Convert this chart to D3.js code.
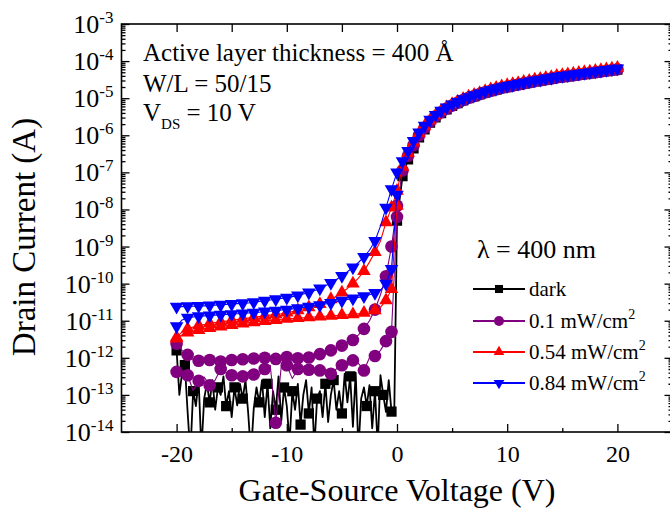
<!DOCTYPE html>
<html>
<head>
<meta charset="utf-8">
<script src="https://cdn.jsdelivr.net/npm/d3@7"></script>
<style>
body { margin: 0; background: #fff; }
svg text { font-family: "Liberation Serif", "Times New Roman", serif; fill: #000; }
</style>
</head>
<body>
<div id="chart"></div>
<script>
// ---- data (log10 of drain current, A) ----
// off-state sweeps, Vgs = -20 .. 0 step 0.5
var blueUp = [-10.62,-10.62,-10.61,-10.61,-10.60,-10.60,-10.59,-10.58,-10.57,-10.56,
  -10.55,-10.54,-10.53,-10.52,-10.50,-10.48,-10.46,-10.44,-10.42,-10.40,
  -10.38,-10.35,-10.32,-10.28,-10.24,-10.19,-10.13,-10.06,-9.98,-9.89,
  -9.79,-9.68,-9.56,-9.43,-9.28,-9.10,-8.85,-8.45,-7.95,-7.45,-7.00];
var blueLo = [-11.15,-10.98,-10.92,-10.90,-10.88,-10.87,-10.86,-10.85,-10.84,-10.83,
  -10.82,-10.81,-10.80,-10.79,-10.78,-10.77,-10.75,-10.74,-10.73,-10.71,
  -10.70,-10.68,-10.66,-10.64,-10.62,-10.60,-10.58,-10.55,-10.52,-10.49,
  -10.46,-10.43,-10.40,-10.37,-10.34,-10.30,-10.25,-10.18,-10.00,-9.60,-7.60];
var redUp = [-11.45,-11.30,-11.22,-11.17,-11.13,-11.10,-11.07,-11.05,-11.03,-11.01,
  -10.99,-10.97,-10.95,-10.93,-10.91,-10.89,-10.87,-10.85,-10.83,-10.81,
  -10.78,-10.75,-10.72,-10.68,-10.64,-10.60,-10.55,-10.49,-10.42,-10.34,
  -10.24,-10.13,-10.00,-9.85,-9.66,-9.42,-9.15,-8.85,-8.35,-7.95,-7.50];
var redLo = [-11.48,-11.38,-11.32,-11.28,-11.25,-11.22,-11.20,-11.18,-11.16,-11.14,
  -11.12,-11.10,-11.08,-11.06,-11.04,-11.02,-11.01,-10.99,-10.98,-10.96,
  -10.95,-10.94,-10.93,-10.92,-10.91,-10.90,-10.89,-10.88,-10.87,-10.86,
  -10.85,-10.84,-10.83,-10.81,-10.79,-10.76,-10.72,-10.64,-10.45,-10.15,-7.90];
var purpleUp = [-11.62,-11.80,-11.92,-12.05,-12.08,-12.02,-12.06,-12.05,-12.10,-12.03,
  -12.06,-12.10,-12.04,-12.08,-12.02,-12.06,-12.00,-11.96,-12.03,-12.06,
  -11.98,-12.04,-12.01,-11.97,-11.99,-11.94,-11.90,-11.85,-11.80,-11.74,
  -11.67,-11.60,-11.52,-11.38,-11.22,-11.00,-10.70,-10.30,-9.80,-9.00,-7.90];
var purpleLo = [-12.38,-12.45,-12.47,-12.88,-12.62,-12.52,-12.74,-12.60,-12.30,-12.40,
  -12.47,-12.42,-12.50,-12.38,-12.45,-12.47,-12.30,-12.20,-13.75,-12.22,
  -12.20,-12.56,-12.30,-12.25,-12.32,-12.28,-12.34,-12.40,-12.43,-12.30,
  -12.20,-12.22,-12.07,-12.15,-12.34,-12.00,-11.95,-11.80,-11.55,-11.30,-8.20];
// dark off-state, Vgs = -20 .. -0.25 step 0.25 (noisy)
var darkOff = [-11.8,-13.0,-12.4,-12.2,-13.46,-14.6,-12.9,-13.3,-12.6,-14.5,
  -13.1,-12.7,-13.2,-12.6,-13.4,-12.8,-13.0,-12.5,-13.3,-12.9,
  -13.6,-12.8,-13.28,-12.7,-13.1,-12.6,-13.5,-14.6,-13.37,-12.8,
  -13.2,-12.6,-13.6,-12.7,-13.9,-12.9,-13.4,-12.5,-13.7,-12.8,
  -13.3,-14.3,-12.9,-13.4,-12.7,-13.8,-13.0,-12.6,-13.5,-12.8,
  -14.4,-13.1,-12.9,-13.6,-12.7,-13.73,-13.0,-12.6,-13.4,-12.9,
  -13.5,-12.43,-13.2,-12.5,-13.86,-12.4,-14.5,-13.1,-12.8,-13.3,
  -12.74,-13.9,-12.9,-14.4,-12.47,-13.0,-13.46,-12.6,-13.45,-13.5];
// on-state, Vgs = 0.5 .. 20 step 0.5
var blueOn = [-6.70,-6.42,-6.15,-5.92,-5.74,-5.58,-5.45,-5.34,-5.25,-5.17,
  -5.10,-5.03,-4.97,-4.92,-4.87,-4.82,-4.78,-4.74,-4.70,-4.67,
  -4.64,-4.61,-4.58,-4.55,-4.52,-4.50,-4.47,-4.45,-4.42,-4.40,
  -4.38,-4.36,-4.34,-4.32,-4.30,-4.28,-4.26,-4.24,-4.22,-4.20];
var redOn = [-6.85,-6.48,-6.20,-5.95,-5.76,-5.60,-5.46,-5.35,-5.25,-5.16,
  -5.09,-5.02,-4.96,-4.91,-4.86,-4.81,-4.76,-4.72,-4.68,-4.65,
  -4.62,-4.59,-4.56,-4.53,-4.50,-4.48,-4.45,-4.43,-4.40,-4.38,
  -4.36,-4.34,-4.32,-4.30,-4.28,-4.26,-4.24,-4.22,-4.20,-4.18];
var purpleOn = [-6.95,-6.55,-6.27,-6.00,-5.80,-5.63,-5.49,-5.38,-5.28,-5.20,
  -5.12,-5.05,-4.99,-4.94,-4.89,-4.84,-4.80,-4.76,-4.72,-4.69,
  -4.66,-4.63,-4.60,-4.57,-4.54,-4.52,-4.49,-4.47,-4.44,-4.42,
  -4.40,-4.38,-4.36,-4.34,-4.32,-4.30,-4.28,-4.26,-4.24,-4.22];
// dark on-state, Vgs = 0 .. 20 step 0.5
var darkOn = [-8.30,-7.10,-6.65,-6.35,-6.06,-5.84,-5.66,-5.52,-5.40,-5.30,-5.21,
  -5.13,-5.06,-5.00,-4.95,-4.90,-4.85,-4.81,-4.77,-4.73,-4.70,
  -4.67,-4.64,-4.61,-4.58,-4.55,-4.53,-4.50,-4.48,-4.45,-4.43,
  -4.41,-4.39,-4.37,-4.35,-4.33,-4.31,-4.29,-4.27,-4.25,-4.23];

var vOff = d3.range(-20, 0.001, 0.5);
var vOn = d3.range(0.5, 20.001, 0.5);
var vDarkOff = d3.range(-20, -0.01, 0.25);
var vDarkOn = d3.range(0, 20.001, 0.5);

var xTicks = [-20, -10, 0, 10, 20];
var xMinor = [-15, -5, 5, 15];
var yExp = d3.range(-14, -2);  // 10^-14 .. 10^-3

var legendNames = ["dark", "0.1 mW/cm", "0.54 mW/cm", "0.84 mW/cm"];

function zip(vs, ls) { return vs.map(function(v, i) { return [v, ls[i]]; }); }

// markers: 1 V apart in the off region, every point near and above threshold
function offMarks(d) { return d[0] >= -0.5 || d[0] % 1 === 0; }
function darkMarks(d, i) { return d[0] >= 0 || i % 3 === 0; }

var series = [
  { name: legendNames[0], color: "#000000", sym: d3.symbolSquare, size: 105, rot: 0,
    sweeps: [zip(vDarkOff, darkOff).concat(zip(vDarkOn, darkOn))], marks: darkMarks, lw: 1.8 },
  { name: legendNames[1], color: "#800080", sym: d3.symbolCircle, size: 125, rot: 0,
    sweeps: [zip(vOff, purpleUp).concat(zip(vOn, purpleOn)), zip(vOff, purpleLo)], marks: offMarks, lw: 1.1 },
  { name: legendNames[2], color: "#ff0000", sym: d3.symbolTriangle, size: 80, rot: 0,
    sweeps: [zip(vOff, redUp).concat(zip(vOn, redOn)), zip(vOff, redLo)], marks: offMarks, lw: 1.1 },
  { name: legendNames[3], color: "#0000ff", sym: d3.symbolTriangle, size: 80, rot: 180,
    sweeps: [zip(vOff, blueUp).concat(zip(vOn, blueOn)), zip(vOff, blueLo)], marks: offMarks, lw: 1.1 }
];

// ---- layout ----
var width = 670, height = 512;
var box = { left: 121.5, right: 672.5, top: 24, bottom: 432 };

var svg = d3.select("#chart").append("svg")
  .attr("width", width)
  .attr("height", height);

var x = d3.scaleLinear().domain([-25, 25]).range([box.left, box.right]);
var y = d3.scaleLog().domain([1e-14, 1e-3]).range([box.bottom, box.top]);

svg.append("clipPath").attr("id", "plotclip")
  .append("rect")
  .attr("x", box.left).attr("y", box.top)
  .attr("width", box.right - box.left).attr("height", box.bottom - box.top);

var line = d3.line()
  .x(function(d) { return x(d[0]); })
  .y(function(d) { return y(Math.pow(10, d[1])); });

var plot = svg.append("g").attr("clip-path", "url(#plotclip)");

series.forEach(function(s) {
  var g = plot.append("g");
  s.sweeps.forEach(function(sw) {
    g.append("path")
      .datum(sw)
      .attr("fill", "none")
      .attr("stroke", s.color)
      .attr("stroke-width", s.lw)
      .attr("stroke-linejoin", "round")
      .attr("d", line);
  });
  s.sweeps.forEach(function(sw) {
    g.selectAll(null)
      .data(sw.filter(s.marks))
      .enter().append("path")
      .attr("d", d3.symbol().type(s.sym).size(s.size))
      .attr("fill", s.color)
      .attr("transform", function(d) {
        return "translate(" + x(d[0]) + "," + y(Math.pow(10, d[1])) + ")" + (s.rot ? " rotate(" + s.rot + ")" : "");
      });
  });
});

// ---- axes ----
function styleTicks(g) {
  g.select(".domain").remove();
  g.selectAll(".tick line").attr("stroke", "#000").attr("stroke-width", 1.3);
}

var yMinor = [];
yExp.slice(0, -1).forEach(function(e) {
  for (var k = 2; k < 10; k++) yMinor.push(k * Math.pow(10, e));
});
var yMajor = yExp.map(function(e) { return Math.pow(10, e); });

svg.append("g").attr("transform", "translate(" + box.left + ",0)")
  .call(d3.axisLeft(y).tickValues(yMajor).tickSize(-8).tickFormat(""))
  .call(styleTicks);
svg.append("g").attr("transform", "translate(" + box.left + ",0)")
  .call(d3.axisLeft(y).tickValues(yMinor).tickSize(-4).tickFormat(""))
  .call(styleTicks);
svg.append("g").attr("transform", "translate(" + box.right + ",0)")
  .call(d3.axisRight(y).tickValues(yMajor).tickSize(-8).tickFormat(""))
  .call(styleTicks);
svg.append("g").attr("transform", "translate(" + box.right + ",0)")
  .call(d3.axisRight(y).tickValues(yMinor).tickSize(-4).tickFormat(""))
  .call(styleTicks);

var xb = svg.append("g").attr("transform", "translate(0," + box.bottom + ")")
  .call(d3.axisBottom(x).tickValues(xTicks).tickSize(-8).tickPadding(13)
    .tickFormat(function(d) { return String(d); }))
  .call(styleTicks);
xb.attr("font-size", 24).attr("font-family", null);
xb.selectAll("text").attr("fill", "#000");

svg.append("g").attr("transform", "translate(0," + box.bottom + ")")
  .call(d3.axisBottom(x).tickValues(xMinor).tickSize(-4).tickFormat(""))
  .call(styleTicks);
svg.append("g").attr("transform", "translate(0," + box.top + ")")
  .call(d3.axisTop(x).tickValues(xTicks.concat(xMinor)).tickSize(-8).tickFormat(""))
  .call(styleTicks);

// frame
svg.append("rect")
  .attr("x", box.left).attr("y", box.top)
  .attr("width", box.right - box.left).attr("height", box.bottom - box.top)
  .attr("fill", "none").attr("stroke", "#000").attr("stroke-width", 1.6);

// y tick labels 10^n
var yl = svg.append("g").selectAll("text")
  .data(yExp)
  .enter().append("text")
  .attr("x", box.left - 8)
  .attr("y", function(e) { return y(Math.pow(10, e)) + 9; })
  .attr("text-anchor", "end")
  .attr("font-size", 26);
yl.append("tspan").text("10");
yl.append("tspan").attr("font-size", 17).attr("dy", -10).text(function(e) { return String(e); });

// axis titles
svg.append("text")
  .attr("x", (box.left + box.right) / 2)
  .attr("y", 501)
  .attr("text-anchor", "middle")
  .attr("font-size", 32)
  .text("Gate-Source Voltage (V)");

svg.append("text")
  .attr("transform", "translate(35,237) rotate(-90)")
  .attr("text-anchor", "middle")
  .attr("font-size", 33)
  .text("Drain Current (A)");

// annotations
var note = svg.append("g").attr("font-size", 25);
note.append("text").attr("x", 143).attr("y", 61).text("Active layer thickness = 400 Å");
note.append("text").attr("x", 143).attr("y", 92).text("W/L = 50/15");
var vds = note.append("text").attr("x", 143).attr("y", 121);
vds.append("tspan").text("V");
vds.append("tspan").attr("font-size", 15).attr("dy", 8).text("DS");
vds.append("tspan").attr("dy", -8).text(" = 10 V");

// legend
var leg = svg.append("g");
leg.append("text").attr("x", 477).attr("y", 258).attr("font-size", 26).text("λ = 400 nm");

var rowY = [289, 321, 352, 383];
series.forEach(function(s, i) {
  var r = leg.append("g").attr("transform", "translate(0," + rowY[i] + ")");
  r.append("line").attr("x1", 473).attr("x2", 525).attr("y1", 0).attr("y2", 0)
    .attr("stroke", s.color).attr("stroke-width", 2);
  r.append("path")
    .attr("d", d3.symbol().type(s.sym).size(s.size * 0.62))
    .attr("fill", s.color)
    .attr("transform", "translate(499,0)" + (s.rot ? " rotate(" + s.rot + ")" : ""));
  var t = r.append("text").attr("x", 529).attr("y", 7).attr("font-size", 21).text(s.name);
  if (i > 0) t.append("tspan").attr("font-size", 14).attr("dy", -9).text("2");
});
</script>
</body>
</html>
